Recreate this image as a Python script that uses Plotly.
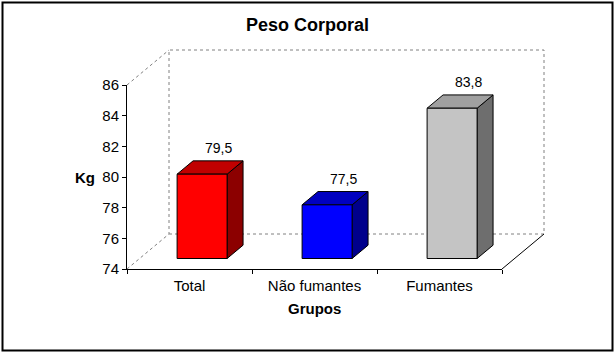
import plotly.graph_objects as go

# ---- data ----
categories = ["Total", "Não fumantes", "Fumantes"]
values = [79.5, 77.5, 83.8]
y_ticks = [74, 76, 78, 80, 82, 84, 86]
front_colors = ["#FF0000", "#0000FF", "#C4C4C4"]
top_colors = ["#C00000", "#0000C0", "#A0A0A0"]
side_colors = ["#8C0000", "#00008C", "#6E6E6E"]

# ---- layout geometry (pixels) ----
W, H = 616, 353
FX0, FX1 = 127, 502          # front frame left/right
FY_MIN, FY_MAX = 269, 85     # pixel rows of y min / y max
Y_MIN, Y_MAX = 74, 86
X_MIN, X_MAX = -0.5, 2.5
DEPTH_X_PX, DEPTH_Y_PX = 42, 35

sx = (FX1 - FX0) / (X_MAX - X_MIN)
sy = (FY_MIN - FY_MAX) / (Y_MAX - Y_MIN)
x2_range = [X_MIN - FX0 / sx, X_MIN + (W - FX0) / sx]
y2_range = [Y_MIN - (H - FY_MIN) / sy, Y_MIN + FY_MIN / sy]
ddx = DEPTH_X_PX / sx
ddy = DEPTH_Y_PX / sy

FONT = "Liberation Sans, Arial, sans-serif"

fig = go.Figure()
# empty trace to host the front axes
fig.add_trace(go.Scatter(x=[], y=[], xaxis="x", yaxis="y", showlegend=False))


def line(xs, ys, color, dash="solid", width=1):
    fig.add_trace(go.Scatter(x=xs, y=ys, mode="lines", xaxis="x2", yaxis="y2",
                             line=dict(color=color, width=width, dash=dash),
                             hoverinfo="skip", showlegend=False))


# back wall (dotted)
line([X_MIN + ddx, X_MAX + ddx, X_MAX + ddx, X_MIN + ddx, X_MIN + ddx],
     [Y_MIN + ddy, Y_MIN + ddy, Y_MAX + ddy, Y_MAX + ddy, Y_MIN + ddy], "#808080", "dot")
# left wall diagonals
line([X_MIN, X_MIN + ddx], [Y_MAX, Y_MAX + ddy], "#808080", "dot")
line([X_MIN, X_MIN + ddx], [Y_MIN, Y_MIN + ddy], "#808080", "dot")
# floor right edge
line([X_MAX, X_MAX + ddx], [Y_MIN, Y_MIN + ddy], "black")

# bars
HALF_W = 0.2
F_FRONT, F_BACK = 0.3, 0.68
for i, (cat, v) in enumerate(zip(categories, values)):
    fx, fy = F_FRONT * ddx, F_FRONT * ddy
    bx, by = (F_BACK - F_FRONT) * ddx, (F_BACK - F_FRONT) * ddy
    x0, x1 = i - HALF_W + fx, i + HALF_W + fx
    yb, yt = Y_MIN + fy, v + fy

    def poly(xs, ys, fill):
        fig.add_trace(go.Scatter(x=xs, y=ys, mode="lines", fill="toself", fillcolor=fill,
                                 xaxis="x2", yaxis="y2", line=dict(color="black", width=1),
                                 hoverinfo="skip", showlegend=False))

    # side
    poly([x1, x1 + bx, x1 + bx, x1, x1], [yb, yb + by, yt + by, yt, yb], side_colors[i])
    # top
    poly([x0, x1, x1 + bx, x0 + bx, x0], [yt, yt, yt + by, yt + by, yt], top_colors[i])
    # front
    poly([x0, x1, x1, x0, x0], [yb, yb, yt, yt, yb], front_colors[i])

    fig.add_annotation(x=i + fx + bx, y=v + fy + by, xref="x2", yref="y2",
                       text=f"{v:.1f}".replace(".", ","), showarrow=False,
                       xanchor="center", yanchor="middle",
                       yshift=13, font=dict(family=FONT, size=14, color="black"))

fig.update_layout(
    width=W, height=H,
    margin=dict(l=0, r=0, t=0, b=0, pad=0, autoexpand=False),
    paper_bgcolor="white", plot_bgcolor="rgba(0,0,0,0)",
    showlegend=False,
    xaxis=dict(domain=[FX0 / W, FX1 / W], range=[X_MIN, X_MAX], anchor="y",
               tickvals=list(range(len(categories))), ticktext=categories,
               ticks="", showline=True, linecolor="black", linewidth=1,
               showgrid=False, zeroline=False, fixedrange=True, automargin=False,
               ticklabelstandoff=3,
               tickfont=dict(family=FONT, size=15, color="black"),
               minor=dict(tickvals=[X_MIN + k for k in range(len(categories) + 1)],
                          ticks="outside", ticklen=4, tickcolor="black", showgrid=False)),
    yaxis=dict(domain=[(H - FY_MIN) / H, (H - FY_MAX) / H], range=[Y_MIN, Y_MAX], anchor="x",
               tickvals=y_ticks, ticks="outside", ticklen=4, tickcolor="black",
               showline=True, linecolor="black", linewidth=1, automargin=False,
               showgrid=False, zeroline=False, fixedrange=True,
               tickfont=dict(family=FONT, size=15, color="black")),
    xaxis2=dict(domain=[0, 1], range=x2_range, anchor="y2", visible=False, fixedrange=True,
                automargin=False),
    yaxis2=dict(domain=[0, 1], range=y2_range, anchor="x2", visible=False, fixedrange=True,
                automargin=False),
)

# titles
for txt, px, py, size in [("<b>Peso Corporal</b>", 307, 25, 18),
                          ("<b>Kg</b>", 85, 177, 15),
                          ("<b>Grupos</b>", 314, 308, 15)]:
    fig.add_annotation(x=px / W, y=1 - py / H, xref="paper", yref="paper", text=txt,
                       showarrow=False, xanchor="center", yanchor="middle",
                       font=dict(family=FONT, size=size, color="black"))

# outer border
fig.add_shape(type="rect", xref="paper", yref="paper",
              x0=2.5 / W, x1=612.5 / W, y0=1 - 350.5 / H, y1=1 - 2.5 / H,
              line=dict(color="black", width=2))

fig.write_html("out.html")
